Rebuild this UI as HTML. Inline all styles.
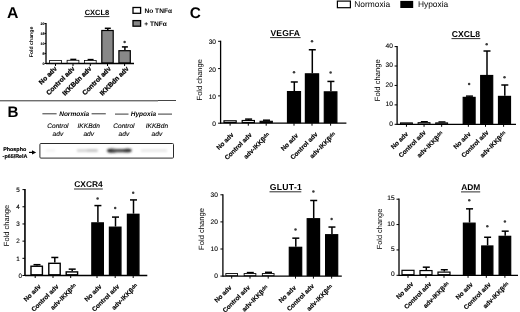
<!DOCTYPE html>
<html><head><meta charset="utf-8"><style>
html,body{margin:0;padding:0;background:#fff;width:520px;height:312px;overflow:hidden}
svg{display:block;font-family:"Liberation Sans", sans-serif;filter:grayscale(100%);text-rendering:geometricPrecision}
</style></head><body>
<svg width="520" height="312" viewBox="0 0 520 312" font-family='"Liberation Sans", sans-serif'>
<rect width="520" height="312" fill="#fff"/>
<text transform="translate(7.0,17.6)" font-size="15.8" font-weight="bold">A</text>
<line x1="46" y1="22.9" x2="46" y2="64.1" stroke="#000" stroke-width="1.3"/>
<line x1="44.5" y1="63.5" x2="46" y2="63.5" stroke="#000" stroke-width="1"/>
<text x="44.4" y="64.8" font-size="3.6" font-weight="bold" font-style="normal" text-anchor="end" fill="#000" stroke="#000" stroke-width="0.12">0</text>
<line x1="44.5" y1="53.5" x2="46" y2="53.5" stroke="#000" stroke-width="1"/>
<text x="44.4" y="54.8" font-size="3.6" font-weight="bold" font-style="normal" text-anchor="end" fill="#000" stroke="#000" stroke-width="0.12">5</text>
<line x1="44.5" y1="43.5" x2="46" y2="43.5" stroke="#000" stroke-width="1"/>
<text x="44.4" y="44.8" font-size="3.6" font-weight="bold" font-style="normal" text-anchor="end" fill="#000" stroke="#000" stroke-width="0.12">10</text>
<line x1="44.5" y1="33.5" x2="46" y2="33.5" stroke="#000" stroke-width="1"/>
<text x="44.4" y="34.8" font-size="3.6" font-weight="bold" font-style="normal" text-anchor="end" fill="#000" stroke="#000" stroke-width="0.12">15</text>
<line x1="44.5" y1="23.5" x2="46" y2="23.5" stroke="#000" stroke-width="1"/>
<text x="44.4" y="24.8" font-size="3.6" font-weight="bold" font-style="normal" text-anchor="end" fill="#000" stroke="#000" stroke-width="0.12">20</text>
<line x1="46" y1="63.5" x2="134" y2="63.5" stroke="#000" stroke-width="1.3"/>
<line x1="55.5" y1="63.5" x2="55.5" y2="66" stroke="#000" stroke-width="1"/>
<rect x="49.6" y="60.4" width="11.8" height="2.7" fill="#fff" stroke="#000" stroke-width="0.8"/>
<line x1="73" y1="63.5" x2="73" y2="66" stroke="#000" stroke-width="1"/>
<line x1="73.3" y1="59.4" x2="73.3" y2="59.9" stroke="#000" stroke-width="1.5"/>
<line x1="70.3" y1="59.4" x2="76.3" y2="59.4" stroke="#000" stroke-width="1.5"/>
<rect x="67.1" y="60.3" width="11.8" height="2.8" fill="#fff" stroke="#000" stroke-width="0.8"/>
<line x1="90.3" y1="63.5" x2="90.3" y2="66" stroke="#000" stroke-width="1"/>
<line x1="90.6" y1="59.6" x2="90.6" y2="60.1" stroke="#000" stroke-width="1.5"/>
<line x1="87.6" y1="59.6" x2="93.6" y2="59.6" stroke="#000" stroke-width="1.5"/>
<rect x="84.4" y="60.5" width="11.8" height="2.6" fill="#fff" stroke="#000" stroke-width="0.8"/>
<line x1="107.5" y1="63.5" x2="107.5" y2="66" stroke="#000" stroke-width="1"/>
<line x1="107.8" y1="28.3" x2="107.8" y2="29.9" stroke="#000" stroke-width="1.5"/>
<line x1="104.8" y1="28.3" x2="110.8" y2="28.3" stroke="#000" stroke-width="1.5"/>
<rect x="101.8" y="30.5" width="11.4" height="32.4" fill="#888" stroke="#000" stroke-width="1.2"/>
<line x1="124.6" y1="63.5" x2="124.6" y2="66" stroke="#000" stroke-width="1"/>
<line x1="124.9" y1="46.9" x2="124.9" y2="50.1" stroke="#000" stroke-width="1.5"/>
<line x1="121.9" y1="46.9" x2="127.9" y2="46.9" stroke="#000" stroke-width="1.5"/>
<rect x="118.9" y="50.7" width="11.4" height="12.2" fill="#888" stroke="#000" stroke-width="1.2"/>
<circle cx="124.6" cy="42" r="1.25" fill="#3a3a3a"/>
<text x="84.7" y="15.2" font-size="7.5" font-weight="bold" letter-spacing="0" fill="#000">CXCL8</text>
<line x1="84.4" y1="16.6" x2="109.4" y2="16.6" stroke="#222" stroke-width="0.95"/>
<text transform="translate(32.8,42) rotate(-90)" font-size="5.2" font-weight="bold" text-anchor="middle" fill="#000">Fold change</text>
<text transform="translate(57.3,69.2) rotate(-45)" font-size="6.7" font-weight="bold" text-anchor="end" fill="#000" stroke="#000" stroke-width="0.25">No adv</text>
<text transform="translate(75.2,69.2) rotate(-45)" font-size="6.7" font-weight="bold" text-anchor="end" fill="#000" stroke="#000" stroke-width="0.25">Control adv</text>
<text transform="translate(91.9,69.2) rotate(-45)" font-size="6.7" font-weight="bold" text-anchor="end" fill="#000" stroke="#000" stroke-width="0.25">IKKBdn adv</text>
<text transform="translate(111.3,69.2) rotate(-45)" font-size="6.7" font-weight="bold" text-anchor="end" fill="#000" stroke="#000" stroke-width="0.25">Control adv</text>
<text transform="translate(129.2,69.2) rotate(-45)" font-size="6.7" font-weight="bold" text-anchor="end" fill="#000" stroke="#000" stroke-width="0.25">IKKBdn adv</text>
<rect x="133" y="7.5" width="7.6" height="5.8" fill="#fff" stroke="#000" stroke-width="1.3"/>
<rect x="133" y="20.6" width="7.6" height="5.6" fill="#888" stroke="#000" stroke-width="1.3"/>
<text x="144.5" y="12.9" font-size="6.6" font-weight="bold" font-style="normal" text-anchor="start" fill="#000" >No TNF&#945;</text>
<text x="144.3" y="25.8" font-size="6.6" font-weight="bold" font-style="normal" text-anchor="start" fill="#000" >+ TNF&#945;</text>
<line x1="0" y1="100.8" x2="158" y2="100.8" stroke="#333" stroke-width="1"/>
<line x1="158" y1="100.5" x2="176" y2="100.5" stroke="#444" stroke-width="1"/>
<text transform="translate(7.4,116.8)" font-size="15.2" font-weight="bold">B</text>
<line x1="42.4" y1="113.8" x2="56.6" y2="113.8" stroke="#222" stroke-width="0.9"/>
<text x="59.2" y="115.7" font-size="6.5" font-weight="bold" font-style="italic" text-anchor="start" fill="#000" >Normoxia</text>
<line x1="91.6" y1="113.8" x2="105.8" y2="113.8" stroke="#222" stroke-width="0.9"/>
<line x1="115" y1="114.1" x2="128.5" y2="114.1" stroke="#222" stroke-width="0.9"/>
<text x="130.8" y="116.1" font-size="6.5" font-weight="bold" font-style="italic" text-anchor="start" fill="#000" >Hypoxia</text>
<line x1="158" y1="114.1" x2="172" y2="114.1" stroke="#222" stroke-width="0.9"/>
<text x="57.9" y="127.6" font-size="6.6" font-weight="normal" font-style="italic" text-anchor="middle" fill="#000" stroke="#000" stroke-width="0.12">Control</text>
<text x="57.9" y="135.5" font-size="6.6" font-weight="normal" font-style="italic" text-anchor="middle" fill="#000" stroke="#000" stroke-width="0.12">adv</text>
<text x="88.7" y="127.6" font-size="6.6" font-weight="normal" font-style="italic" text-anchor="middle" fill="#000" stroke="#000" stroke-width="0.12">IKKBdn</text>
<text x="88.7" y="135.5" font-size="6.6" font-weight="normal" font-style="italic" text-anchor="middle" fill="#000" stroke="#000" stroke-width="0.12">adv</text>
<text x="123.9" y="127.6" font-size="6.6" font-weight="normal" font-style="italic" text-anchor="middle" fill="#000" stroke="#000" stroke-width="0.12">Control</text>
<text x="123.9" y="135.5" font-size="6.6" font-weight="normal" font-style="italic" text-anchor="middle" fill="#000" stroke="#000" stroke-width="0.12">adv</text>
<text x="156.9" y="127.6" font-size="6.6" font-weight="normal" font-style="italic" text-anchor="middle" fill="#000" stroke="#000" stroke-width="0.12">IKKBdn</text>
<text x="156.9" y="135.5" font-size="6.6" font-weight="normal" font-style="italic" text-anchor="middle" fill="#000" stroke="#000" stroke-width="0.12">adv</text>
<text x="3.2" y="151.3" font-size="5.4" font-weight="bold" font-style="normal" text-anchor="start" fill="#000" stroke="#000" stroke-width="0.15">Phospho</text>
<text x="2.6" y="157.6" font-size="5.4" font-weight="bold" font-style="normal" text-anchor="start" fill="#000" stroke="#000" stroke-width="0.15">-p65/RelA</text>
<line x1="29" y1="152.4" x2="33" y2="152.4" stroke="#000" stroke-width="1.2"/>
<path d="M32,150.3 L36.2,152.4 L32,154.5 Z" fill="#000"/>
<defs><filter id="bl" x="-20%" y="-100%" width="140%" height="300%"><feGaussianBlur stdDeviation="1.2 0.8"/></filter></defs>
<rect x="39.9" y="143.5" width="133.6" height="14.6" rx="1" fill="#fff" stroke="#2a2a2a" stroke-width="1"/>
<g filter="url(#bl)">
<rect x="46" y="149.5" width="9" height="2" fill="#f0f0f0"/>
<rect x="77" y="149.2" width="21" height="2.8" fill="#d6d6d6"/>
<rect x="87" y="149.3" width="10" height="2.6" fill="#c8c8c8"/>
<ellipse cx="112" cy="150.7" rx="5" ry="2.1" fill="#2e2e2e"/>
<rect x="112" y="149" width="14" height="3.3" fill="#4a4a4a"/>
<ellipse cx="127.5" cy="150.5" rx="4.2" ry="1.9" fill="#333"/>
<rect x="141" y="149.6" width="26" height="2" fill="#e2e2e2"/>
</g>
<line x1="24.95" y1="189" x2="24.95" y2="276.1" stroke="#000" stroke-width="1.6"/>
<line x1="22.45" y1="275.5" x2="24.95" y2="275.5" stroke="#000" stroke-width="1"/>
<text x="21.95" y="277.8" font-size="6.3" font-weight="normal" font-style="normal" text-anchor="end" fill="#000" stroke="#000" stroke-width="0.12">0</text>
<line x1="22.45" y1="258.32" x2="24.95" y2="258.32" stroke="#000" stroke-width="1"/>
<text x="19.65" y="260.62" font-size="6.3" font-weight="normal" font-style="normal" text-anchor="end" fill="#000" stroke="#000" stroke-width="0.12">1</text>
<line x1="22.45" y1="241.14" x2="24.95" y2="241.14" stroke="#000" stroke-width="1"/>
<text x="19.65" y="243.44" font-size="6.3" font-weight="normal" font-style="normal" text-anchor="end" fill="#000" stroke="#000" stroke-width="0.12">2</text>
<line x1="22.45" y1="223.96" x2="24.95" y2="223.96" stroke="#000" stroke-width="1"/>
<text x="19.65" y="226.26" font-size="6.3" font-weight="normal" font-style="normal" text-anchor="end" fill="#000" stroke="#000" stroke-width="0.12">3</text>
<line x1="22.45" y1="206.78" x2="24.95" y2="206.78" stroke="#000" stroke-width="1"/>
<text x="19.65" y="209.08" font-size="6.3" font-weight="normal" font-style="normal" text-anchor="end" fill="#000" stroke="#000" stroke-width="0.12">4</text>
<line x1="22.45" y1="189.6" x2="24.95" y2="189.6" stroke="#000" stroke-width="1"/>
<text x="19.65" y="191.9" font-size="6.3" font-weight="normal" font-style="normal" text-anchor="end" fill="#000" stroke="#000" stroke-width="0.12">5</text>
<line x1="24.95" y1="275.5" x2="147.3" y2="275.5" stroke="#000" stroke-width="1.6"/>
<line x1="35.2" y1="275.5" x2="35.2" y2="278" stroke="#000" stroke-width="1"/>
<line x1="37" y1="264.68" x2="37" y2="265.54" stroke="#000" stroke-width="1.5"/>
<line x1="33.5" y1="264.68" x2="40.5" y2="264.68" stroke="#000" stroke-width="1.5"/>
<rect x="31" y="266.24" width="11.4" height="8.56" fill="#fff" stroke="#000" stroke-width="1.4"/>
<line x1="53" y1="275.5" x2="53" y2="278" stroke="#000" stroke-width="1"/>
<line x1="54.8" y1="257.46" x2="54.8" y2="262.62" stroke="#000" stroke-width="1.5"/>
<line x1="51.3" y1="257.46" x2="58.3" y2="257.46" stroke="#000" stroke-width="1.5"/>
<rect x="48.8" y="263.31" width="11.4" height="11.48" fill="#fff" stroke="#000" stroke-width="1.4"/>
<line x1="70.7" y1="275.5" x2="70.7" y2="278" stroke="#000" stroke-width="1"/>
<line x1="72.2" y1="269.14" x2="72.2" y2="271.2" stroke="#000" stroke-width="1.5"/>
<line x1="68.7" y1="269.14" x2="75.7" y2="269.14" stroke="#000" stroke-width="1.5"/>
<rect x="66.2" y="271.9" width="11.4" height="2.9" fill="#fff" stroke="#000" stroke-width="1.4"/>
<line x1="97" y1="275.5" x2="97" y2="278" stroke="#000" stroke-width="1"/>
<line x1="97.9" y1="205.58" x2="97.9" y2="222.24" stroke="#000" stroke-width="1.5"/>
<line x1="94.4" y1="205.58" x2="101.4" y2="205.58" stroke="#000" stroke-width="1.5"/>
<rect x="91.9" y="222.94" width="11.4" height="51.86" fill="#000" stroke="#000" stroke-width="1.4"/>
<circle cx="97.6" cy="198.6" r="1.25" fill="#3a3a3a"/>
<line x1="115.2" y1="275.5" x2="115.2" y2="278" stroke="#000" stroke-width="1"/>
<line x1="115.5" y1="217.09" x2="115.5" y2="226.54" stroke="#000" stroke-width="1.5"/>
<line x1="112" y1="217.09" x2="119" y2="217.09" stroke="#000" stroke-width="1.5"/>
<rect x="109.5" y="227.24" width="11.4" height="47.56" fill="#000" stroke="#000" stroke-width="1.4"/>
<circle cx="115.2" cy="208" r="1.25" fill="#3a3a3a"/>
<line x1="133.2" y1="275.5" x2="133.2" y2="278" stroke="#000" stroke-width="1"/>
<line x1="133.5" y1="199.91" x2="133.5" y2="213.65" stroke="#000" stroke-width="1.5"/>
<line x1="130" y1="199.91" x2="137" y2="199.91" stroke="#000" stroke-width="1.5"/>
<rect x="127.5" y="214.35" width="11.4" height="60.45" fill="#000" stroke="#000" stroke-width="1.4"/>
<circle cx="133.2" cy="192.8" r="1.25" fill="#3a3a3a"/>
<text x="74.3" y="186.9" font-size="8.4" font-weight="bold" letter-spacing="0" fill="#000">CXCR4</text>
<line x1="74" y1="189" x2="102.8" y2="189" stroke="#222" stroke-width="0.95"/>
<text transform="translate(8.5,225.5) rotate(-90)" font-size="7.5" font-weight="normal" text-anchor="middle" fill="#000">Fold change</text>
<text transform="translate(41.2,287) rotate(-45)" font-size="6.4" font-weight="bold" text-anchor="end" fill="#000" stroke="#000" stroke-width="0.15">No adv</text>
<text transform="translate(59,287) rotate(-45)" font-size="6.4" font-weight="bold" text-anchor="end" fill="#000" stroke="#000" stroke-width="0.15">Control adv</text>
<text transform="translate(77,286.2) rotate(-45)" font-size="6.4" font-weight="bold" text-anchor="end" fill="#000" stroke="#000" stroke-width="0.15">adv-IKK&#946;<tspan font-size="4.9" dy="-1.3">dn</tspan></text>
<text transform="translate(102.1,287) rotate(-45)" font-size="6.4" font-weight="bold" text-anchor="end" fill="#000" stroke="#000" stroke-width="0.15">No adv</text>
<text transform="translate(119.7,287) rotate(-45)" font-size="6.4" font-weight="bold" text-anchor="end" fill="#000" stroke="#000" stroke-width="0.15">Control adv</text>
<text transform="translate(138.3,286.2) rotate(-45)" font-size="6.4" font-weight="bold" text-anchor="end" fill="#000" stroke="#000" stroke-width="0.15">adv-IKK&#946;<tspan font-size="4.9" dy="-1.3">dn</tspan></text>
<text transform="translate(189.8,17.5)" font-size="15.4" font-weight="bold">C</text>
<rect x="337.4" y="1.1" width="13" height="6.6" fill="#fff" stroke="#000" stroke-width="1.2"/>
<text x="354.3" y="6.9" font-size="8.4" font-weight="normal" font-style="normal" text-anchor="start" fill="#000" >Normoxia</text>
<rect x="400.3" y="0.9" width="12.9" height="7.1" fill="#000"/>
<text x="417.9" y="6.9" font-size="8.4" font-weight="normal" font-style="normal" text-anchor="start" fill="#000" >Hypoxia</text>
<line x1="220.6" y1="40.7" x2="220.6" y2="123.8" stroke="#000" stroke-width="1.3"/>
<line x1="218.1" y1="123.2" x2="220.6" y2="123.2" stroke="#000" stroke-width="1"/>
<text x="216" y="126.1" font-size="6.6" font-weight="normal" font-style="normal" text-anchor="end" fill="#000" stroke="#000" stroke-width="0.12">0</text>
<line x1="218.1" y1="95.9" x2="220.6" y2="95.9" stroke="#000" stroke-width="1"/>
<text x="216" y="98.8" font-size="6.6" font-weight="normal" font-style="normal" text-anchor="end" fill="#000" stroke="#000" stroke-width="0.12">10</text>
<line x1="218.1" y1="68.6" x2="220.6" y2="68.6" stroke="#000" stroke-width="1"/>
<text x="216" y="71.5" font-size="6.6" font-weight="normal" font-style="normal" text-anchor="end" fill="#000" stroke="#000" stroke-width="0.12">20</text>
<line x1="218.1" y1="41.3" x2="220.6" y2="41.3" stroke="#000" stroke-width="1"/>
<text x="216" y="44.2" font-size="6.6" font-weight="normal" font-style="normal" text-anchor="end" fill="#000" stroke="#000" stroke-width="0.12">30</text>
<line x1="220.6" y1="123.2" x2="346.4" y2="123.2" stroke="#000" stroke-width="1.3"/>
<line x1="230.1" y1="123.2" x2="230.1" y2="125.7" stroke="#000" stroke-width="1"/>
<rect x="224" y="120.8" width="12.2" height="1.8" fill="#fff" stroke="#000" stroke-width="1.2"/>
<line x1="248.3" y1="123.2" x2="248.3" y2="125.7" stroke="#000" stroke-width="1"/>
<line x1="248.6" y1="119.11" x2="248.6" y2="119.92" stroke="#000" stroke-width="1.5"/>
<line x1="245.1" y1="119.11" x2="252.1" y2="119.11" stroke="#000" stroke-width="1.5"/>
<rect x="242.2" y="120.52" width="12.2" height="2.08" fill="#fff" stroke="#000" stroke-width="1.2"/>
<line x1="266.2" y1="123.2" x2="266.2" y2="125.7" stroke="#000" stroke-width="1"/>
<line x1="266.5" y1="120.2" x2="266.5" y2="120.74" stroke="#000" stroke-width="1.5"/>
<line x1="263" y1="120.2" x2="270" y2="120.2" stroke="#000" stroke-width="1.5"/>
<rect x="260.1" y="121.34" width="12.2" height="1.26" fill="#fff" stroke="#000" stroke-width="1.2"/>
<line x1="294" y1="123.2" x2="294" y2="125.7" stroke="#000" stroke-width="1"/>
<line x1="294.3" y1="81.98" x2="294.3" y2="90.99" stroke="#000" stroke-width="1.5"/>
<line x1="290.8" y1="81.98" x2="297.8" y2="81.98" stroke="#000" stroke-width="1.5"/>
<rect x="287.5" y="91.59" width="13" height="31.01" fill="#000" stroke="#000" stroke-width="1.2"/>
<circle cx="294" cy="72.2" r="1.25" fill="#3a3a3a"/>
<line x1="312" y1="123.2" x2="312" y2="125.7" stroke="#000" stroke-width="1"/>
<line x1="312.3" y1="49.76" x2="312.3" y2="73.24" stroke="#000" stroke-width="1.5"/>
<line x1="308.8" y1="49.76" x2="315.8" y2="49.76" stroke="#000" stroke-width="1.5"/>
<rect x="305.4" y="73.84" width="13.2" height="48.76" fill="#000" stroke="#000" stroke-width="1.2"/>
<circle cx="312" cy="41.2" r="1.25" fill="#3a3a3a"/>
<line x1="330.6" y1="123.2" x2="330.6" y2="125.7" stroke="#000" stroke-width="1"/>
<line x1="330.9" y1="81.43" x2="330.9" y2="91.26" stroke="#000" stroke-width="1.5"/>
<line x1="327.4" y1="81.43" x2="334.4" y2="81.43" stroke="#000" stroke-width="1.5"/>
<rect x="324.3" y="91.86" width="12.6" height="30.74" fill="#000" stroke="#000" stroke-width="1.2"/>
<circle cx="330.6" cy="72.5" r="1.25" fill="#3a3a3a"/>
<text x="270.4" y="35.6" font-size="8.5" font-weight="bold" letter-spacing="0.2" fill="#000">VEGFA</text>
<line x1="270.1" y1="37.6" x2="300.6" y2="37.6" stroke="#222" stroke-width="0.95"/>
<text transform="translate(201.7,79.8) rotate(-90)" font-size="7.5" font-weight="normal" text-anchor="middle" fill="#000">Fold change</text>
<text transform="translate(234.1,135.2) rotate(-45)" font-size="6.4" font-weight="bold" text-anchor="end" fill="#000" stroke="#000" stroke-width="0.15">No adv</text>
<text transform="translate(252.3,135.2) rotate(-45)" font-size="6.4" font-weight="bold" text-anchor="end" fill="#000" stroke="#000" stroke-width="0.15">Control adv</text>
<text transform="translate(270.2,135.2) rotate(-45)" font-size="6.4" font-weight="bold" text-anchor="end" fill="#000" stroke="#000" stroke-width="0.15">adv-IKK&#946;<tspan font-size="4.9" dy="-1.3">dn</tspan></text>
<text transform="translate(298.5,136.1) rotate(-45)" font-size="6.4" font-weight="bold" text-anchor="end" fill="#000" stroke="#000" stroke-width="0.15">No adv</text>
<text transform="translate(318,134.8) rotate(-45)" font-size="6.4" font-weight="bold" text-anchor="end" fill="#000" stroke="#000" stroke-width="0.15">Control adv</text>
<text transform="translate(336.2,134.8) rotate(-45)" font-size="6.4" font-weight="bold" text-anchor="end" fill="#000" stroke="#000" stroke-width="0.15">adv-IKK&#946;<tspan font-size="4.9" dy="-1.3">dn</tspan></text>
<line x1="397.1" y1="46" x2="397.1" y2="124.9" stroke="#000" stroke-width="1.3"/>
<line x1="394.6" y1="124.3" x2="397.1" y2="124.3" stroke="#000" stroke-width="1"/>
<text x="392.9" y="125.5" font-size="6.6" font-weight="normal" font-style="normal" text-anchor="end" fill="#000" stroke="#000" stroke-width="0.12">0</text>
<line x1="394.6" y1="104.88" x2="397.1" y2="104.88" stroke="#000" stroke-width="1"/>
<text x="392.9" y="106.08" font-size="6.6" font-weight="normal" font-style="normal" text-anchor="end" fill="#000" stroke="#000" stroke-width="0.12">10</text>
<line x1="394.6" y1="85.45" x2="397.1" y2="85.45" stroke="#000" stroke-width="1"/>
<text x="392.9" y="86.65" font-size="6.6" font-weight="normal" font-style="normal" text-anchor="end" fill="#000" stroke="#000" stroke-width="0.12">20</text>
<line x1="394.6" y1="66.03" x2="397.1" y2="66.03" stroke="#000" stroke-width="1"/>
<text x="392.9" y="67.23" font-size="6.6" font-weight="normal" font-style="normal" text-anchor="end" fill="#000" stroke="#000" stroke-width="0.12">30</text>
<line x1="394.6" y1="46.6" x2="397.1" y2="46.6" stroke="#000" stroke-width="1"/>
<text x="392.9" y="47.8" font-size="6.6" font-weight="normal" font-style="normal" text-anchor="end" fill="#000" stroke="#000" stroke-width="0.12">40</text>
<line x1="397.1" y1="124.3" x2="516" y2="124.3" stroke="#000" stroke-width="1.3"/>
<line x1="406.45" y1="124.3" x2="406.45" y2="126.8" stroke="#000" stroke-width="1"/>
<rect x="400.45" y="122.81" width="12" height="1.04" fill="#fff" stroke="#000" stroke-width="0.9"/>
<line x1="424.05" y1="124.3" x2="424.05" y2="126.8" stroke="#000" stroke-width="1"/>
<line x1="424.35" y1="121.77" x2="424.35" y2="122.16" stroke="#000" stroke-width="1.5"/>
<line x1="420.85" y1="121.77" x2="427.85" y2="121.77" stroke="#000" stroke-width="1.5"/>
<rect x="418.05" y="122.61" width="12" height="1.24" fill="#fff" stroke="#000" stroke-width="0.9"/>
<line x1="441.65" y1="124.3" x2="441.65" y2="126.8" stroke="#000" stroke-width="1"/>
<line x1="441.95" y1="121.97" x2="441.95" y2="122.36" stroke="#000" stroke-width="1.5"/>
<line x1="438.45" y1="121.97" x2="445.45" y2="121.97" stroke="#000" stroke-width="1.5"/>
<rect x="435.65" y="122.81" width="12" height="1.04" fill="#fff" stroke="#000" stroke-width="0.9"/>
<line x1="468.35" y1="124.3" x2="468.35" y2="126.8" stroke="#000" stroke-width="1"/>
<line x1="469.45" y1="96.13" x2="469.45" y2="96.79" stroke="#000" stroke-width="1.5"/>
<line x1="465.95" y1="96.13" x2="472.95" y2="96.13" stroke="#000" stroke-width="1.5"/>
<rect x="463.2" y="97.39" width="11.9" height="26.31" fill="#000" stroke="#000" stroke-width="1.2"/>
<circle cx="469.15" cy="84" r="1.25" fill="#3a3a3a"/>
<line x1="485.5" y1="124.3" x2="485.5" y2="126.8" stroke="#000" stroke-width="1"/>
<line x1="487" y1="51.01" x2="487" y2="74.9" stroke="#000" stroke-width="1.5"/>
<line x1="483.5" y1="51.01" x2="490.5" y2="51.01" stroke="#000" stroke-width="1.5"/>
<rect x="480.7" y="75.5" width="12" height="48.2" fill="#000" stroke="#000" stroke-width="1.2"/>
<circle cx="486.7" cy="44.2" r="1.25" fill="#3a3a3a"/>
<line x1="503.6" y1="124.3" x2="503.6" y2="126.8" stroke="#000" stroke-width="1"/>
<line x1="504.8" y1="85" x2="504.8" y2="95.8" stroke="#000" stroke-width="1.5"/>
<line x1="501.3" y1="85" x2="508.3" y2="85" stroke="#000" stroke-width="1.5"/>
<rect x="498.5" y="96.4" width="12" height="27.3" fill="#000" stroke="#000" stroke-width="1.2"/>
<circle cx="504.5" cy="77.2" r="1.25" fill="#3a3a3a"/>
<text x="451.8" y="36.8" font-size="8.6" font-weight="bold" letter-spacing="0" fill="#000">CXCL8</text>
<line x1="451.5" y1="38.6" x2="480.3" y2="38.6" stroke="#222" stroke-width="0.95"/>
<text transform="translate(379.9,80.3) rotate(-90)" font-size="7.6" font-weight="normal" text-anchor="middle" fill="#000">Fold change</text>
<text transform="translate(408.45,134.4) rotate(-45)" font-size="6.4" font-weight="bold" text-anchor="end" fill="#000" stroke="#000" stroke-width="0.15">No adv</text>
<text transform="translate(426.35,132.9) rotate(-45)" font-size="6.4" font-weight="bold" text-anchor="end" fill="#000" stroke="#000" stroke-width="0.15">Control adv</text>
<text transform="translate(443.65,133.9) rotate(-45)" font-size="6.4" font-weight="bold" text-anchor="end" fill="#000" stroke="#000" stroke-width="0.15">adv-IKK&#946;<tspan font-size="4.9" dy="-1.3">dn</tspan></text>
<text transform="translate(471.15,134.4) rotate(-45)" font-size="6.4" font-weight="bold" text-anchor="end" fill="#000" stroke="#000" stroke-width="0.15">No adv</text>
<text transform="translate(489,132.9) rotate(-45)" font-size="6.4" font-weight="bold" text-anchor="end" fill="#000" stroke="#000" stroke-width="0.15">Control adv</text>
<text transform="translate(506.5,133.9) rotate(-45)" font-size="6.4" font-weight="bold" text-anchor="end" fill="#000" stroke="#000" stroke-width="0.15">adv-IKK&#946;<tspan font-size="4.9" dy="-1.3">dn</tspan></text>
<line x1="222.9" y1="194.2" x2="222.9" y2="276.7" stroke="#000" stroke-width="1.3"/>
<line x1="220.4" y1="276.1" x2="222.9" y2="276.1" stroke="#000" stroke-width="1"/>
<text x="217.9" y="278.2" font-size="6.6" font-weight="normal" font-style="normal" text-anchor="end" fill="#000" stroke="#000" stroke-width="0.12">0</text>
<line x1="220.4" y1="249" x2="222.9" y2="249" stroke="#000" stroke-width="1"/>
<text x="217.9" y="251.1" font-size="6.6" font-weight="normal" font-style="normal" text-anchor="end" fill="#000" stroke="#000" stroke-width="0.12">10</text>
<line x1="220.4" y1="221.9" x2="222.9" y2="221.9" stroke="#000" stroke-width="1"/>
<text x="217.9" y="224" font-size="6.6" font-weight="normal" font-style="normal" text-anchor="end" fill="#000" stroke="#000" stroke-width="0.12">20</text>
<line x1="220.4" y1="194.8" x2="222.9" y2="194.8" stroke="#000" stroke-width="1"/>
<text x="217.9" y="196.9" font-size="6.6" font-weight="normal" font-style="normal" text-anchor="end" fill="#000" stroke="#000" stroke-width="0.12">30</text>
<line x1="222.9" y1="276.1" x2="341.8" y2="276.1" stroke="#000" stroke-width="1.3"/>
<line x1="231.7" y1="276.1" x2="231.7" y2="278.6" stroke="#000" stroke-width="1"/>
<rect x="225.85" y="273.57" width="11.7" height="2.08" fill="#fff" stroke="#000" stroke-width="0.9"/>
<line x1="250" y1="276.1" x2="250" y2="278.6" stroke="#000" stroke-width="1"/>
<line x1="250.3" y1="272.58" x2="250.3" y2="273.12" stroke="#000" stroke-width="1.5"/>
<line x1="246.8" y1="272.58" x2="253.8" y2="272.58" stroke="#000" stroke-width="1.5"/>
<rect x="244.15" y="273.57" width="11.7" height="2.08" fill="#fff" stroke="#000" stroke-width="0.9"/>
<line x1="268.2" y1="276.1" x2="268.2" y2="278.6" stroke="#000" stroke-width="1"/>
<line x1="268.5" y1="272.31" x2="268.5" y2="273.12" stroke="#000" stroke-width="1.5"/>
<line x1="265" y1="272.31" x2="272" y2="272.31" stroke="#000" stroke-width="1.5"/>
<rect x="262.35" y="273.57" width="11.7" height="2.08" fill="#fff" stroke="#000" stroke-width="0.9"/>
<line x1="295.5" y1="276.1" x2="295.5" y2="278.6" stroke="#000" stroke-width="1"/>
<line x1="295.8" y1="238.16" x2="295.8" y2="246.7" stroke="#000" stroke-width="1.5"/>
<line x1="292.3" y1="238.16" x2="299.3" y2="238.16" stroke="#000" stroke-width="1.5"/>
<rect x="289.3" y="247.3" width="12.4" height="28.2" fill="#000" stroke="#000" stroke-width="1.2"/>
<circle cx="295.5" cy="229.6" r="1.25" fill="#3a3a3a"/>
<line x1="313.4" y1="276.1" x2="313.4" y2="278.6" stroke="#000" stroke-width="1"/>
<line x1="313.7" y1="200.49" x2="313.7" y2="218.11" stroke="#000" stroke-width="1.5"/>
<line x1="310.2" y1="200.49" x2="317.2" y2="200.49" stroke="#000" stroke-width="1.5"/>
<rect x="307.2" y="218.71" width="12.4" height="56.79" fill="#000" stroke="#000" stroke-width="1.2"/>
<circle cx="313.4" cy="191.4" r="1.25" fill="#3a3a3a"/>
<line x1="331.65" y1="276.1" x2="331.65" y2="278.6" stroke="#000" stroke-width="1"/>
<line x1="331.95" y1="227.05" x2="331.95" y2="234.1" stroke="#000" stroke-width="1.5"/>
<line x1="328.45" y1="227.05" x2="335.45" y2="227.05" stroke="#000" stroke-width="1.5"/>
<rect x="325.6" y="234.7" width="12.1" height="40.81" fill="#000" stroke="#000" stroke-width="1.2"/>
<circle cx="331.65" cy="219" r="1.25" fill="#3a3a3a"/>
<text x="269.8" y="190.1" font-size="8.6" font-weight="bold" letter-spacing="0.3" fill="#000">GLUT-1</text>
<line x1="269.5" y1="191.8" x2="301.3" y2="191.8" stroke="#222" stroke-width="0.95"/>
<text transform="translate(203.6,229) rotate(-90)" font-size="7.6" font-weight="normal" text-anchor="middle" fill="#000">Fold change</text>
<text transform="translate(232.1,287.9) rotate(-45)" font-size="6.4" font-weight="bold" text-anchor="end" fill="#000" stroke="#000" stroke-width="0.15">No adv</text>
<text transform="translate(250.4,287.9) rotate(-45)" font-size="6.4" font-weight="bold" text-anchor="end" fill="#000" stroke="#000" stroke-width="0.15">Control adv</text>
<text transform="translate(268.6,287.9) rotate(-45)" font-size="6.4" font-weight="bold" text-anchor="end" fill="#000" stroke="#000" stroke-width="0.15">adv-IKK&#946;<tspan font-size="4.9" dy="-1.3">dn</tspan></text>
<text transform="translate(296.4,288.2) rotate(-45)" font-size="6.4" font-weight="bold" text-anchor="end" fill="#000" stroke="#000" stroke-width="0.15">No adv</text>
<text transform="translate(314.6,286.4) rotate(-45)" font-size="6.4" font-weight="bold" text-anchor="end" fill="#000" stroke="#000" stroke-width="0.15">Control adv</text>
<text transform="translate(333.25,287.2) rotate(-45)" font-size="6.4" font-weight="bold" text-anchor="end" fill="#000" stroke="#000" stroke-width="0.15">adv-IKK&#946;<tspan font-size="4.9" dy="-1.3">dn</tspan></text>
<line x1="399" y1="198.6" x2="399" y2="275.9" stroke="#000" stroke-width="1.3"/>
<line x1="396.5" y1="275.3" x2="399" y2="275.3" stroke="#000" stroke-width="1"/>
<text x="394.6" y="276.4" font-size="6.6" font-weight="normal" font-style="normal" text-anchor="end" fill="#000" stroke="#000" stroke-width="0.12">0</text>
<line x1="396.5" y1="249.93" x2="399" y2="249.93" stroke="#000" stroke-width="1"/>
<text x="394.6" y="251.03" font-size="6.6" font-weight="normal" font-style="normal" text-anchor="end" fill="#000" stroke="#000" stroke-width="0.12">5</text>
<line x1="396.5" y1="224.57" x2="399" y2="224.57" stroke="#000" stroke-width="1"/>
<text x="394.6" y="225.67" font-size="6.6" font-weight="normal" font-style="normal" text-anchor="end" fill="#000" stroke="#000" stroke-width="0.12">10</text>
<line x1="396.5" y1="199.2" x2="399" y2="199.2" stroke="#000" stroke-width="1"/>
<text x="394.6" y="200.3" font-size="6.6" font-weight="normal" font-style="normal" text-anchor="end" fill="#000" stroke="#000" stroke-width="0.12">15</text>
<line x1="399" y1="275.3" x2="518" y2="275.3" stroke="#000" stroke-width="1.3"/>
<line x1="408" y1="275.3" x2="408" y2="277.8" stroke="#000" stroke-width="1"/>
<rect x="402" y="270.32" width="12" height="4.38" fill="#fff" stroke="#000" stroke-width="1.2"/>
<line x1="426" y1="275.3" x2="426" y2="277.8" stroke="#000" stroke-width="1"/>
<line x1="426.3" y1="267.18" x2="426.3" y2="269.97" stroke="#000" stroke-width="1.5"/>
<line x1="422.8" y1="267.18" x2="429.8" y2="267.18" stroke="#000" stroke-width="1.5"/>
<rect x="420" y="270.57" width="12" height="4.13" fill="#fff" stroke="#000" stroke-width="1.2"/>
<line x1="444" y1="275.3" x2="444" y2="277.8" stroke="#000" stroke-width="1"/>
<line x1="444.3" y1="269.72" x2="444.3" y2="271.5" stroke="#000" stroke-width="1.5"/>
<line x1="440.8" y1="269.72" x2="447.8" y2="269.72" stroke="#000" stroke-width="1.5"/>
<rect x="438" y="272.1" width="12" height="2.61" fill="#fff" stroke="#000" stroke-width="1.2"/>
<line x1="468.05" y1="275.3" x2="468.05" y2="277.8" stroke="#000" stroke-width="1"/>
<line x1="469.55" y1="208.84" x2="469.55" y2="222.54" stroke="#000" stroke-width="1.5"/>
<line x1="466.05" y1="208.84" x2="473.05" y2="208.84" stroke="#000" stroke-width="1.5"/>
<rect x="463.4" y="223.14" width="11.7" height="51.56" fill="#000" stroke="#000" stroke-width="1.2"/>
<circle cx="469.25" cy="200.3" r="1.25" fill="#3a3a3a"/>
<line x1="486.3" y1="275.3" x2="486.3" y2="277.8" stroke="#000" stroke-width="1"/>
<line x1="487.6" y1="237.25" x2="487.6" y2="245.37" stroke="#000" stroke-width="1.5"/>
<line x1="484.1" y1="237.25" x2="491.1" y2="237.25" stroke="#000" stroke-width="1.5"/>
<rect x="481.7" y="245.97" width="11.2" height="28.73" fill="#000" stroke="#000" stroke-width="1.2"/>
<circle cx="487.3" cy="226.2" r="1.25" fill="#3a3a3a"/>
<line x1="504.9" y1="275.3" x2="504.9" y2="277.8" stroke="#000" stroke-width="1"/>
<line x1="505.2" y1="231.16" x2="505.2" y2="235.73" stroke="#000" stroke-width="1.5"/>
<line x1="501.7" y1="231.16" x2="508.7" y2="231.16" stroke="#000" stroke-width="1.5"/>
<rect x="499.1" y="236.33" width="11.6" height="38.37" fill="#000" stroke="#000" stroke-width="1.2"/>
<circle cx="504.9" cy="221.5" r="1.25" fill="#3a3a3a"/>
<text x="461.2" y="190.2" font-size="8.4" font-weight="bold" letter-spacing="0" fill="#000">ADM</text>
<line x1="461" y1="191.9" x2="480.2" y2="191.9" stroke="#222" stroke-width="0.95"/>
<text transform="translate(382.3,229) rotate(-90)" font-size="7.4" font-weight="normal" text-anchor="middle" fill="#000">Fold change</text>
<text transform="translate(413.8,284.5) rotate(-45)" font-size="6.4" font-weight="bold" text-anchor="end" fill="#000" stroke="#000" stroke-width="0.15">No adv</text>
<text transform="translate(431.8,284.5) rotate(-45)" font-size="6.4" font-weight="bold" text-anchor="end" fill="#000" stroke="#000" stroke-width="0.15">Control adv</text>
<text transform="translate(449.8,284.5) rotate(-45)" font-size="6.4" font-weight="bold" text-anchor="end" fill="#000" stroke="#000" stroke-width="0.15">adv-IKK&#946;<tspan font-size="4.9" dy="-1.3">dn</tspan></text>
<text transform="translate(473.25,284.9) rotate(-45)" font-size="6.4" font-weight="bold" text-anchor="end" fill="#000" stroke="#000" stroke-width="0.15">No adv</text>
<text transform="translate(491.3,284.9) rotate(-45)" font-size="6.4" font-weight="bold" text-anchor="end" fill="#000" stroke="#000" stroke-width="0.15">Control adv</text>
<text transform="translate(509.5,284.7) rotate(-45)" font-size="6.4" font-weight="bold" text-anchor="end" fill="#000" stroke="#000" stroke-width="0.15">adv-IKK&#946;<tspan font-size="4.9" dy="-1.3">dn</tspan></text>
</svg>
</body></html>
